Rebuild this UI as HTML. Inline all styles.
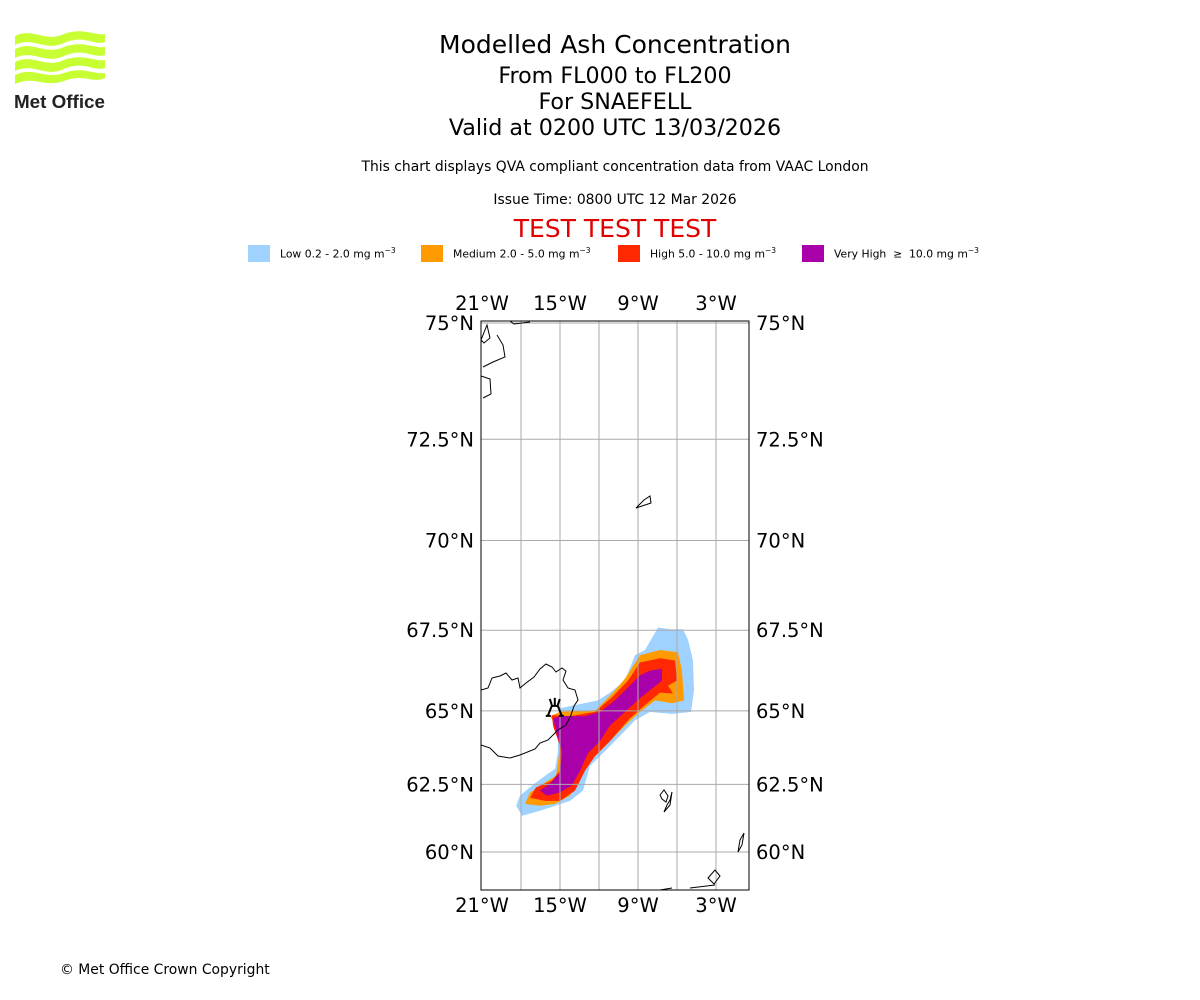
<!DOCTYPE html>
<html><head><meta charset="utf-8"><style>
body{margin:0;background:#fff;font-family:"DejaVu Sans","Liberation Sans",sans-serif;}
#wrap{position:relative;width:1200px;height:1000px;overflow:hidden;}
.t{position:absolute;left:0;width:1230px;text-align:center;color:#000;white-space:nowrap;}
.lg{position:absolute;top:245px;height:17px;}
.lt{position:absolute;top:246px;font-size:10.8px;}
</style></head><body><div id="wrap">
<svg style="position:absolute;left:14px;top:30px" width="94" height="82">
<g fill="#c8ff32">
<path d="M1 6 C20 -3 30 13 50 4 C70 -3 80 6 91 4 L91 12 C80 16 70 4 50 13 C30 22 20 6 1 15Z"/>
<path d="M1 19 C20 10 30 26 50 17 C70 10 80 19 91 17 L91 25 C80 29 70 17 50 26 C30 35 20 19 1 28Z"/>
<path d="M1 32 C20 23 30 39 50 30 C70 23 80 32 91 30 L91 38 C80 42 70 30 50 39 C30 48 20 32 1 41Z"/>
<path d="M1 45 C20 36 30 50 50 43 C70 36 80 45 91 43 L91 48 C80 54 70 43 50 51 C30 58 20 45 1 54Z"/>
</g>
<text x="0" y="78" font-family="Liberation Sans,sans-serif" font-weight="bold" font-size="18" fill="#222" textLength="91" lengthAdjust="spacingAndGlyphs">Met Office</text>
</svg>
<div class="t" style="top:30px;font-size:25px">Modelled Ash Concentration</div>
<div class="t" style="top:63px;font-size:22.2px">From FL000 to FL200</div>
<div class="t" style="top:89px;font-size:22.2px">For SNAEFELL</div>
<div class="t" style="top:115px;font-size:22.2px">Valid at 0200 UTC 13/03/2026</div>
<div class="t" style="top:159px;font-size:13.9px">This chart displays QVA compliant concentration data from VAAC London</div>
<div class="t" style="top:192px;font-size:13.9px">Issue Time: 0800 UTC 12 Mar 2026</div>
<div class="t" style="top:214px;font-size:25px;color:#e00000">TEST TEST TEST</div>
<div class="lg" style="left:248px;width:22px;background:#a0d2ff"></div>
<div class="lt" style="left:280px">Low 0.2 - 2.0 mg m<sup style="font-size:7.5px">−3</sup></div>
<div class="lg" style="left:421px;width:22px;background:#ff9a00"></div>
<div class="lt" style="left:453px">Medium 2.0 - 5.0 mg m<sup style="font-size:7.5px">−3</sup></div>
<div class="lg" style="left:618px;width:22px;background:#ff2800"></div>
<div class="lt" style="left:650px">High 5.0 - 10.0 mg m<sup style="font-size:7.5px">−3</sup></div>
<div class="lg" style="left:802px;width:22px;background:#aa00aa"></div>
<div class="lt" style="left:834px">Very High &nbsp;≥ &nbsp;10.0 mg m<sup style="font-size:7.5px">−3</sup></div>
<svg id="map" style="position:absolute;left:0;top:0" width="1200" height="1000"></svg>
<div style="position:absolute;left:60px;top:962px;font-size:13.9px">© Met Office Crown Copyright</div>
</div>
<script>
const lonTicks=[-21,-15,-9,-3];
const lonTickLabels=["21°W","15°W","9°W","3°W"];
const lonGrid=[-18,-15,-12,-9,-6,-3];
const latTicks=[75,72.5,70,67.5,65,62.5,60];
const latTickLabels=["75°N","72.5°N","70°N","67.5°N","65°N","62.5°N","60°N"];
const levelColors=["#a0d2ff","#ff9a00","#ff2800","#aa00aa"];
const lowLon=[-18.38,-18.08,-17.15,-16.15,-15.38,-15.15,-15.15,-15.0,-12.08,-11.15,-10.0,-9.23,-8.46,-7.46,-6.54,-5.54,-5.15,-4.77,-4.69,-4.92,-6.38,-8.08,-9.23,-10.38,-11.92,-12.69,-13.23,-14.23,-15.38,-16.54,-17.92];
const lowLat=[61.73,62.10,62.46,62.81,63.05,63.66,64.52,65.09,65.34,65.59,65.97,66.75,66.91,67.58,67.53,67.53,67.22,66.59,65.66,64.97,64.90,64.97,64.69,64.18,63.49,63.15,62.28,61.91,61.73,61.55,61.36];
const medLon=[-17.69,-17.31,-16.15,-15.31,-15.0,-15.31,-15.77,-15.0,-12.23,-10.77,-10.0,-8.85,-7.31,-5.92,-5.62,-5.46,-6.38,-7.69,-8.85,-10.0,-11.54,-12.69,-13.62,-14.23,-15.38,-16.54];
const medLat=[61.80,62.21,62.57,62.81,63.73,64.52,64.83,64.97,65.03,65.66,66.03,66.75,66.91,66.84,66.28,65.34,65.25,65.34,64.97,64.52,63.83,63.32,62.65,62.10,61.80,61.73];
const highLon=[-17.31,-16.85,-15.62,-15.0,-15.0,-15.54,-15.62,-14.23,-12.31,-11.0,-9.77,-8.85,-7.31,-6.15,-6.0,-6.69,-6.31,-7.31,-8.46,-9.62,-11.15,-12.31,-13.08,-13.85,-15.0,-16.15];
const highLat=[62.02,62.39,62.64,62.98,63.83,64.52,64.86,64.83,64.97,65.44,65.97,66.53,66.66,66.59,65.97,65.81,65.56,65.59,65.19,64.76,64.0,63.49,62.98,62.28,61.91,61.91];
const vhLon=[-16.54,-15.77,-15.0,-14.85,-15.31,-15.54,-14.85,-13.08,-11.92,-10.77,-9.77,-8.85,-8.08,-7.15,-7.15,-8.08,-8.85,-10.0,-11.15,-11.92,-12.85,-13.46,-14.08,-15.0,-16.0];
const vhLat=[62.28,62.53,62.91,63.66,64.35,64.76,64.83,64.83,64.97,65.34,65.75,66.13,66.28,66.34,65.97,65.66,65.41,64.97,64.52,64.0,63.59,62.98,62.47,62.21,62.10];
const volcanoLon=[-15.4], volcanoLat=[65.0];

const X0=482,PXDEG=13,B=744.4,Y75=323;
function merc(l){return Math.log(Math.tan(Math.PI/4+l*Math.PI/360));}
const M75=merc(75);
function xs(lon){return X0+(lon+21)*PXDEG;}
function ys(lat){return Y75+(M75-merc(lat))*B;}
const NS="http://www.w3.org/2000/svg";
const svg=document.getElementById('map');
function mk(t,a){const e=document.createElementNS(NS,t);for(const k in a)e.setAttribute(k,a[k]);svg.appendChild(e);return e;}
const L=481,R=749,T=321,Bt=890;
const defs=mk('defs',{});
const cp=document.createElementNS(NS,'clipPath');cp.setAttribute('id','cp');
const cr=document.createElementNS(NS,'rect');cr.setAttribute('x',L);cr.setAttribute('y',T);cr.setAttribute('width',R-L);cr.setAttribute('height',Bt-T);
cp.appendChild(cr);defs.appendChild(cp);
const g=mk('g',{'clip-path':'url(#cp)'});


function add(p,t,a){const e=document.createElementNS(NS,t);for(const k in a)e.setAttribute(k,a[k]);p.appendChild(e);return e;}
const levels=[[lowLon,lowLat,'ash-low'],[medLon,medLat,'ash-medium'],[highLon,highLat,'ash-high'],[vhLon,vhLat,'ash-very-high']];
levels.forEach((lv,i)=>{
  const pts=lv[0].map((lo,j)=>xs(lo).toFixed(1)+','+ys(lv[1][j]).toFixed(1)).join(' ');
  const p=add(g,'polygon',{points:pts,fill:levelColors[i]});
  
  
});
lonGrid.forEach(lo=>{const l=add(g,'line',{x1:xs(lo),x2:xs(lo),y1:T,y2:Bt,stroke:'#aaa','stroke-width':1});
});
latTicks.forEach(la=>{const l=add(g,'line',{x1:L,x2:R,y1:ys(la),y2:ys(la),stroke:'#aaa','stroke-width':1});
});
const coast=[
"M481,690 L488,688 L492,678 L500,676 L506,673 L512,680 L518,678 L520,688 L526,683 L534,677 L540,669 L546,664 L552,667 L556,672 L562,668 L566,671 L563,680 L568,688 L575,690 L578,700 L574,706 L571,715 L566,725 L558,730 L548,740 L540,743 L535,749 L520,755 L510,758 L498,756 L490,748 L481,745",
"M481,340 L487,325 L490,338 L484,343 Z M497,335 L503,345 L505,357 L493,362 L483,367",
"M481,376 L490,379 L491,394 L483,398",
"M510,321 L514,324 L530,322",
"M636,508 L644,500 L650,496 L651,503 L642,506 Z",
"M660,795 L664,790 L668,796 L666,802 L662,799 Z M664,812 L667,805 L670,800 L672,792 L670,805 Z",
"M738,852 L740,840 L744,833 L742,845 Z",
"M708,878 L715,870 L720,876 L714,884 Z M690,888 L715,885",
"M660,890 L672,888"];
coast.forEach(d=>{const p=add(g,'path',{d:d,fill:'none',stroke:'#000','stroke-width':1});
});
const vx=xs(volcanoLon[0]),vy=ys(volcanoLat[0]);
const vg=mk('g',{stroke:'#000','stroke-width':2,fill:'none'});


add(vg,'path',{d:`M${vx-7},${vy+5} L${vx-3},${vy-5} L${vx+3},${vy-5} L${vx+7},${vy+5} M${vx-9},${vy+5} L${vx-4},${vy+5} M${vx+4},${vy+5} L${vx+9},${vy+5} M${vx-5},${vy-12} L${vx-3},${vy-6} M${vx},${vy-13} L${vx},${vy-6} M${vx+5},${vy-12} L${vx+3},${vy-6}`});
const fr=mk('rect',{x:L,y:T,width:R-L,height:Bt-T,fill:'none',stroke:'#000','stroke-width':1});

function txt(x,y,s,anchor,name){const t=mk('text',{x:x,y:y,'font-size':19.5,'text-anchor':anchor,'font-family':'DejaVu Sans, Liberation Sans, sans-serif'});t.textContent=s;
}
lonTicks.forEach((lo,i)=>{txt(xs(lo),310,lonTickLabels[i],'middle','lon-label-top');txt(xs(lo),912,lonTickLabels[i],'middle','lon-label-bottom');});
latTicks.forEach((la,i)=>{txt(474,ys(la)+7,latTickLabels[i],'end','lat-label-left');txt(756,ys(la)+7,latTickLabels[i],'start','lat-label-right');});
</script></body></html>
